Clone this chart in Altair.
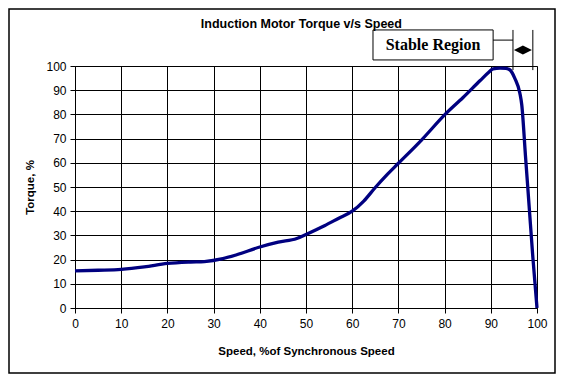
import altair as alt
import pandas as pd

# ---- data ----
speed = [0, 5, 10, 15, 20, 25, 28, 32, 35, 40, 44, 48, 50, 54, 57, 60, 62.5, 65,
         67.5, 70, 75, 80, 84, 87.7, 89.5, 90.5, 92, 93.3, 94.2, 95.2, 96.3, 96.7,
         97.5, 98.3, 99.1, 100]
torque = [15.3, 15.6, 16.0, 17.0, 18.4, 19.0, 19.2, 20.4, 22.0, 25.2, 27.2, 28.7,
          30.4, 34.0, 37.0, 40.0, 44.2, 49.8, 55.0, 59.8, 69.4, 79.8, 87.0, 94.0,
          97.3, 98.8, 99.1, 99.0, 98.3, 94.9, 88.7, 84.0, 63.0, 42.0, 21.0, 0.0]

x_ticks = list(range(0, 101, 10))
y_ticks = list(range(0, 101, 10))

title_text = "Induction Motor Torque v/s Speed"
x_title = "Speed, %of Synchronous Speed"
y_title = "Torque, %"
label_text = "Stable Region"

# annotation geometry in data units
title_pos = [49.0, 117.4]
box_x = [64.5, 90.5]
box_y = [102.5, 114.9]
label_pos = [77.5, 108.6]
region_x = [94.8, 99.1]
region_y = [98.3, 114.9]
connector_y = 110.7
arrow_pos = [96.95, 106.6]

xs = alt.Scale(domain=[0, 100], nice=False, zero=False)
ys = alt.Scale(domain=[0, 100], nice=False, zero=False)


def X(field):
    return alt.X(field, type="quantitative", scale=xs, title=x_title,
                 axis=alt.Axis(values=x_ticks, titlePadding=16, labelPadding=5))


def Y(field):
    return alt.Y(field, type="quantitative", scale=ys, title=y_title,
                 axis=alt.Axis(values=y_ticks, titlePadding=10, labelPadding=4))


df = pd.DataFrame({"speed": speed, "torque": torque})

curve = alt.Chart(df).mark_line(
    color="#000080", strokeWidth=3.3, interpolate="monotone"
).encode(x=X("speed"), y=Y("torque"))

box_df = pd.DataFrame({"speed": [box_x[0]], "x2": [box_x[1]],
                       "torque": [box_y[0]], "y2": [box_y[1]]})
box = alt.Chart(box_df).mark_rect(fill="white", stroke="black", strokeWidth=1).encode(
    x=X("speed"), x2="x2", y=Y("torque"), y2="y2")

label_df = pd.DataFrame({"speed": [label_pos[0]], "torque": [label_pos[1]], "t": [label_text]})
label = alt.Chart(label_df).mark_text(
    font="Liberation Serif", fontSize=16, fontWeight="bold", color="black",
    align="center", baseline="middle"
).encode(x=X("speed"), y=Y("torque"), text="t:N")

title_df = pd.DataFrame({"speed": [title_pos[0]], "torque": [title_pos[1]], "t": [title_text]})
title = alt.Chart(title_df).mark_text(
    font="Liberation Sans", fontSize=12.5, fontWeight="bold", color="black",
    align="center", baseline="middle"
).encode(x=X("speed"), y=Y("torque"), text="t:N")

conn_df = pd.DataFrame({"speed": [box_x[1]], "x2": [region_x[0]], "torque": [connector_y]})
conn = alt.Chart(conn_df).mark_rule(color="black", strokeWidth=1).encode(
    x=X("speed"), x2="x2", y=Y("torque"))

vl_df = pd.DataFrame({"speed": region_x, "torque": [region_y[0]] * 2, "y2": [region_y[1]] * 2})
vlines = alt.Chart(vl_df).mark_rule(color="black", strokeWidth=1).encode(
    x=X("speed"), y=Y("torque"), y2="y2")

arr_df = pd.DataFrame({"speed": [arrow_pos[0]], "torque": [arrow_pos[1]]})
arrow = alt.Chart(arr_df).mark_point(
    shape="M-1,0L0,-0.5L1,0L0,0.5Z", size=324, filled=True, color="black", opacity=1
).encode(x=X("speed"), y=Y("torque"))

frame = alt.Chart(pd.DataFrame({"a": [0]})).mark_rect(
    fillOpacity=0, stroke="black", strokeWidth=1.5
).encode(x=alt.value(-66), x2=alt.value(480), y=alt.value(-57), y2=alt.value(307))

chart = alt.layer(curve, box, label, title, conn, vlines, arrow, frame).properties(
    width=462, height=242,
    autosize=alt.AutoSizeParams(type="none"),
    padding={"left": 67, "top": 58, "right": 19, "bottom": 66},
).configure_view(
    stroke="#808080", strokeWidth=1
).configure_axis(
    grid=True, gridColor="black", gridWidth=1, gridOpacity=1,
    domainColor="black", tickColor="black", tickSize=5,
    labelFont="Liberation Sans", labelFontSize=12, labelColor="black",
    labelFlush=False, labelOverlap=False,
    titleFont="Liberation Sans", titleFontSize=11.5, titleFontWeight="bold",
    titleColor="black",
)

chart.save("out.html", embed_options={"renderer": "svg", "actions": False})
